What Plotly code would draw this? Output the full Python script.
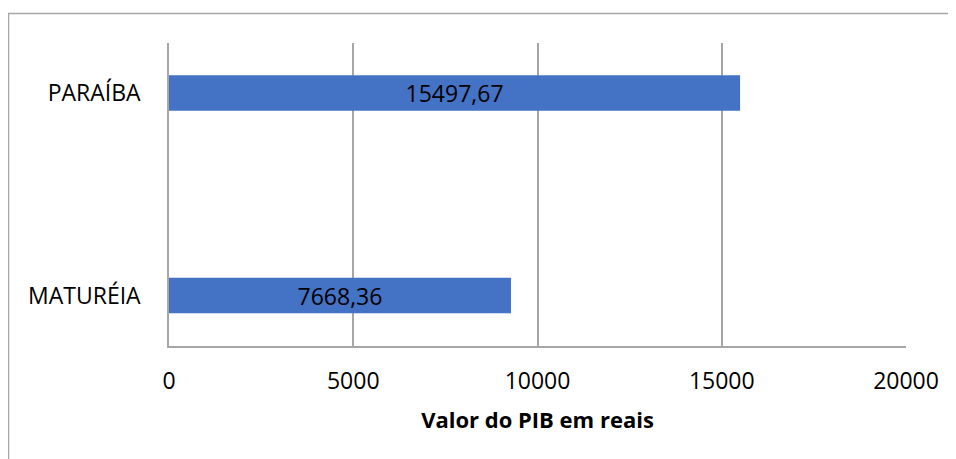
import plotly.graph_objects as go

categories = ["MATURÉIA", "PARAÍBA"]
bar_values = [9280, 15497.67]
label_texts = ["7668,36", "15497,67"]
tick_values = [0, 5000, 10000, 15000, 20000]
axis_title = "Valor do PIB em reais"

FONT = "Open Sans, Noto Sans, sans-serif"
# page body has an 8px margin, so the figure is drawn 8px in from the top-left
OFF = 8
W, H = 956 - OFF, 459 - OFF
ML, MR, MT, MB = 169 - OFF, 50, 43 - OFF, 113

fig = go.Figure()
fig.add_trace(go.Bar(
    y=categories,
    x=bar_values,
    orientation="h",
    marker=dict(color="#4472C4", line=dict(width=0)),
    width=0.175,
    text=label_texts,
    textposition="inside",
    insidetextanchor="middle",
    constraintext="none",
    textangle=0,
    textfont=dict(family=FONT, size=23, color="#000000"),
    insidetextfont=dict(family=FONT, size=23, color="#000000"),
    hoverinfo="skip",
    showlegend=False,
))

fig.update_layout(
    width=W, height=H,
    margin=dict(l=ML, r=MR, t=MT, b=MB),
    paper_bgcolor="white",
    plot_bgcolor="white",
    font=dict(family=FONT, size=23, color="#000000"),
    xaxis=dict(
        range=[0, 20000],
        tickvals=tick_values,
        ticktext=[str(v) for v in tick_values],
        showgrid=True, gridcolor="#a6a6a6", gridwidth=1.5,
        zeroline=False,
        showline=True, linecolor="#a6a6a6", linewidth=1.5,
        ticks="", ticklen=0,
        ticklabelstandoff=14,
        tickfont=dict(family=FONT, size=23, color="#000000"),
        title=dict(text="<b>" + axis_title + "</b>",
                   font=dict(family=FONT, size=22, color="#000000"),
                   standoff=17),
        automargin=False,
        fixedrange=True,
    ),
    yaxis=dict(
        type="category",
        categoryorder="array", categoryarray=categories,
        range=[-0.249, 1.247],
        showgrid=False, zeroline=False,
        showline=True, linecolor="#a6a6a6", linewidth=1.5,
        ticks="", ticklen=0,
        tickfont=dict(family=FONT, size=23, color="#000000"),
        ticklabelstandoff=22,
        automargin=False,
        fixedrange=True,
    ),
    shapes=[dict(
        type="rect", xref="paper", yref="paper",
        x0=(0.5 - ML) / (W - ML - MR), x1=1.3,
        y0=-0.6, y1=1 + (MT - 5.5) / (H - MT - MB),
        line=dict(color="#a6a6a6", width=1.5),
        fillcolor="rgba(0,0,0,0)", layer="below",
    )],
)

fig.write_html("out.html")
